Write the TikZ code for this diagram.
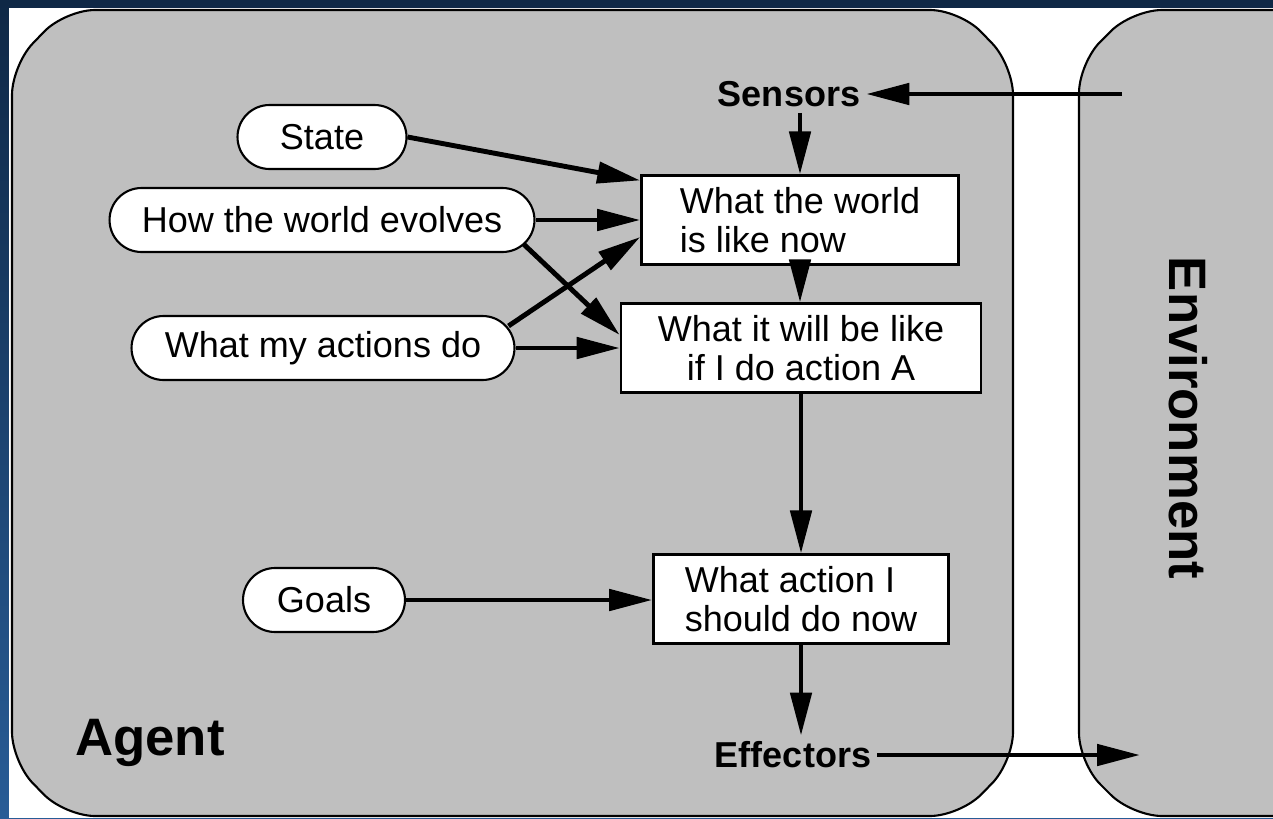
\documentclass[tikz,border=0pt]{standalone}
\usepackage{fontspec}
\setmainfont{Liberation Sans}
\usetikzlibrary{arrows.meta,positioning}
\definecolor{agentgray}{RGB}{191,191,191}
\definecolor{navytop}{RGB}{15,40,70}
\definecolor{navybot}{RGB}{40,92,150}

\begin{document}
\begin{tikzpicture}[x=0.02cm,y=-0.02cm,
    pill/.style={draw,line width=1.2pt,fill=white,rounded corners=0.64cm,minimum height=1.28cm,inner sep=0pt,font=\fontsize{20.5}{22}\selectfont},
    infobox/.style={draw,line width=1.5pt,fill=white,minimum height=1.77cm,inner sep=0pt,font=\fontsize{20.5}{22}\selectfont},
    tag/.style={font=\fontsize{20.5}{22}\selectfont\bfseries},
    bigtag/.style={font=\fontsize{30}{32}\selectfont\bfseries},
    arr/.style={line width=2.8pt,-{Triangle[length=0.86cm,width=0.42cm]}}]
    \useasboundingbox (0,0) rectangle (1273,818);
    % background
    \shade[top color=navytop,bottom color=navybot] (0,0) rectangle (1273,818);
    \fill[white] (9,8) rectangle (1273,818);

    % agent and environment frames
    \draw[fill=agentgray,line width=1.2pt,rounded corners=0.6cm]
        (12,65) -- (65,10) -- (960,10) -- (1013,65) -- (1013,762) -- (960,816) -- (65,816) -- (12,762) -- cycle;
    \begin{scope}
        \clip (0,0) rectangle (1273,818);
        \draw[fill=agentgray,line width=1.2pt,rounded corners=0.6cm]
            (1079,63) -- (1132,10) -- (1330,10) -- (1330,816) -- (1132,816) -- (1079,763) -- cycle;
    \end{scope}
    \node[bigtag] (agent) at (150,743) {Agent};
    \node[bigtag,rotate=-90] (env) at (1188,418) {Environment};

    % sensors and effectors
    \node[tag] (sensors) at (789,94) {Sensors};
    \node[tag] (effectors) at (793,755) {Effectors};
    \coordinate (envin) at (1122,94);
    \coordinate (envout) at (1140,755);

    % knowledge
    \node[pill,minimum width=3.38cm] (state) at (322,137) {State};
    \node[pill,minimum width=8.5cm] (evolves) at (322,220) {How the world evolves};
    \node[pill,minimum width=7.66cm] (actions) at (323,348) {What my actions do};
    \node[pill,minimum width=3.24cm] (goals) at (324,600) {Goals};

    % reasoning boxes
    \node[infobox,minimum width=6.34cm,align=left] (world) at (800,220) {What the world\\is like now};
    \node[infobox,minimum width=7.2cm,align=center] (will) at (801,348) {What it will be like\\ if I do action A};
    \node[infobox,minimum width=5.9cm,align=left] (act) at (801,599) {What action I\\should do now};

    % connectors
    \draw[arr] (envin) -- (sensors.east);
    \draw[arr] (sensors.south -| world.north) -- (world.north);
    \draw[arr] (state.east) -- ([yshift=-0.12cm]world.north west);
    \draw[arr] (evolves.east) -- (evolves.east -| world.west);
    \draw[arr] ([xshift=-0.24cm,yshift=0.18cm]evolves.south east) -- ([yshift=0.26cm]will.west);
    \draw[arr] ([xshift=-0.14cm,yshift=-0.22cm]actions.north east) -- ([yshift=-0.34cm]world.west);
    \draw[arr] (actions.east) -- (actions.east -| will.west);
    \draw[arr] (world.south) -- (world.south |- will.north);
    \draw[arr] (will.south) -- (will.south |- act.north);
    \draw[arr] (goals.east) -- (goals.east -| act.west);
    \draw[arr] (act.south) -- (act.south |- effectors.north);
    \draw[arr] (effectors.east) -- (envout);
\end{tikzpicture}
\end{document}
